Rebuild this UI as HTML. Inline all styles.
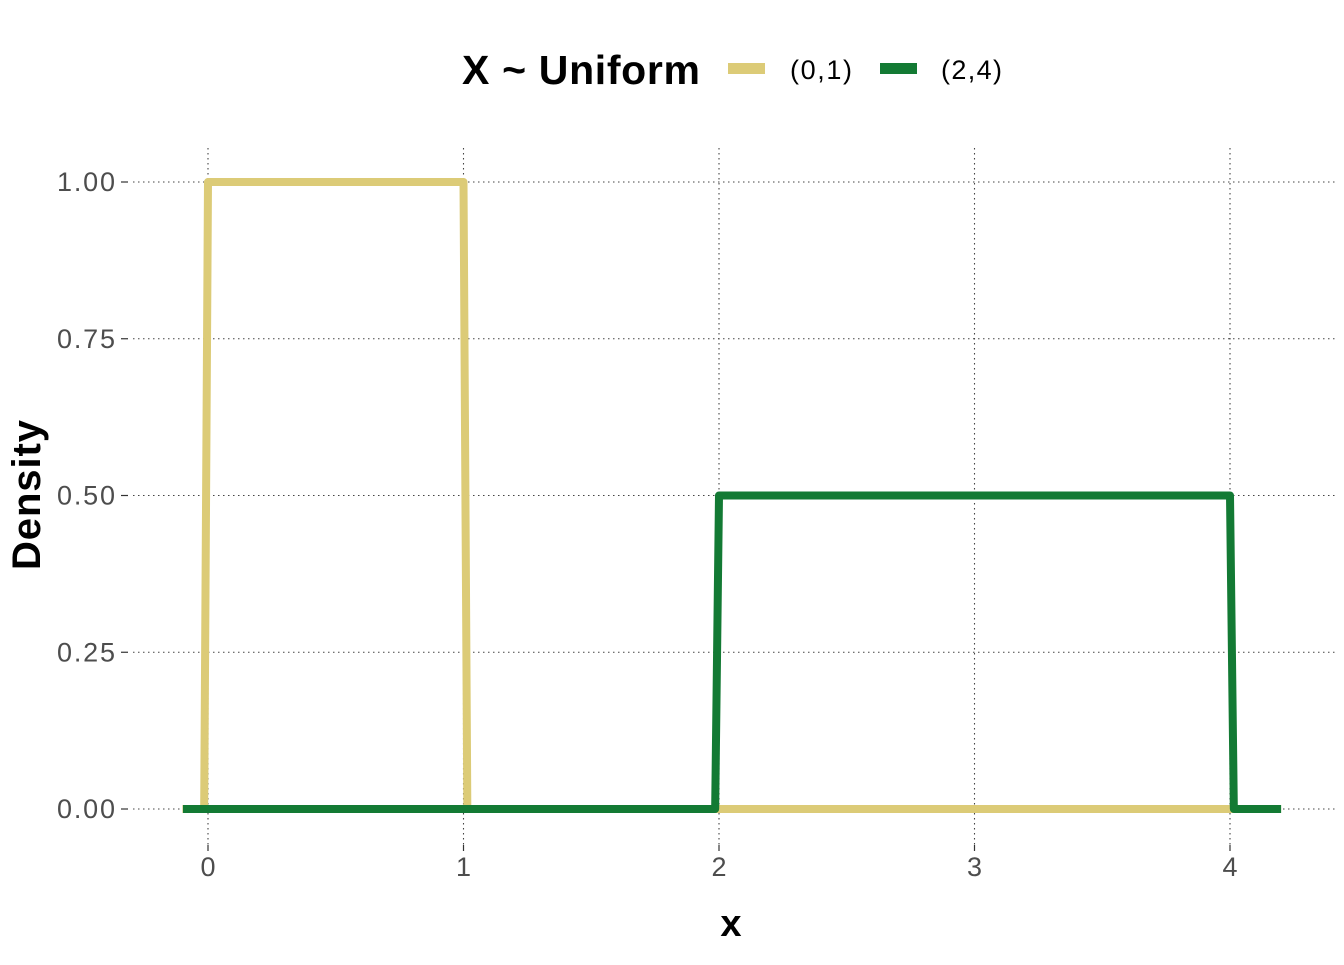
<!DOCTYPE html>
<html><head><meta charset="utf-8"><style>
html,body{margin:0;padding:0;background:#fff;}
svg text{font-family:"Liberation Sans",sans-serif;}
</style></head><body>
<svg id="chart" width="1344" height="960" xmlns="http://www.w3.org/2000/svg">
<g id="grid"></g>
<g id="axes"></g>
<g id="series"></g>
<text x="731" y="936" font-size="38" font-weight="bold" text-anchor="middle">x</text>
<text transform="translate(40,495) rotate(-90)" font-size="40" font-weight="bold" text-anchor="middle" textLength="150">Density</text>
<g>
<text x="462" y="84" font-size="41" font-weight="bold" textLength="238">X ~ Uniform</text>
<rect x="728" y="63" width="37" height="11" fill="#dccb77"/>
<text x="790" y="79" font-size="27" textLength="62">(0,1)</text>
<rect x="880" y="63" width="37" height="11" fill="#137a34"/>
<text x="941" y="79" font-size="27" textLength="61">(2,4)</text>
</g>
</svg>
<script>
const xTicks=[0,1,2,3,4];
const yTicks=[0,0.25,0.5,0.75,1];
const yTickLabels=["0.00","0.25","0.50","0.75","1.00"];
const u01X=[-0.1,-0.015,0,1,1.015,4.2];
const u01Y=[0,0,1,1,0,0];
const u24X=[-0.098,1.985,2,4,4.015,4.2];
const u24Y=[0,0,0.5,0.5,0,0];
const sx=v=>208+v*255.5;
const sy=v=>809-v*627;
const NS="http://www.w3.org/2000/svg";
function mk(tag,attrs,parent){const e=document.createElementNS(NS,tag);for(const k in attrs)e.setAttribute(k,attrs[k]);parent.appendChild(e);return e;}
const grid=document.getElementById('grid'),axes=document.getElementById('axes'),series=document.getElementById('series');
xTicks.forEach(t=>{
 const l=mk('line',{x1:sx(t),x2:sx(t),y1:148,y2:845,stroke:'#444','stroke-width':1.1,'stroke-dasharray':'1.5,3.5'},grid);
 
 
 const tk=mk('line',{x1:sx(t),x2:sx(t),y1:845,y2:851,stroke:'#333','stroke-width':1.2},axes);
 
 
 const tx=mk('text',{x:sx(t),y:876,'font-size':27,fill:'#4d4d4d','text-anchor':'middle'},axes);
 tx.textContent=t;
 
 
});
yTicks.forEach((t,i)=>{
 const l=mk('line',{x1:133,x2:1338,y1:sy(t),y2:sy(t),stroke:'#444','stroke-width':1.1,'stroke-dasharray':'1.5,3.5'},grid);
 
 
 const tk=mk('line',{x1:121,x2:128,y1:sy(t),y2:sy(t),stroke:'#333','stroke-width':1.2},axes);
 
 
 const tx=mk('text',{x:115,y:sy(t)+9,'font-size':27,fill:'#4d4d4d','text-anchor':'end',textLength:58},axes);
 tx.textContent=yTickLabels[i];
 
 
});
function path(xs,ys){return xs.map((x,i)=>(i?'L':'M')+sx(x)+','+sy(ys[i])).join(' ');}
const p1=mk('path',{d:path(u01X,u01Y),fill:'none',stroke:'#dccb77','stroke-width':8,'stroke-linejoin':'round'},series);


const p2=mk('path',{d:path(u24X,u24Y),fill:'none',stroke:'#137a34','stroke-width':8,'stroke-linejoin':'round'},series);


</script>
</body></html>
